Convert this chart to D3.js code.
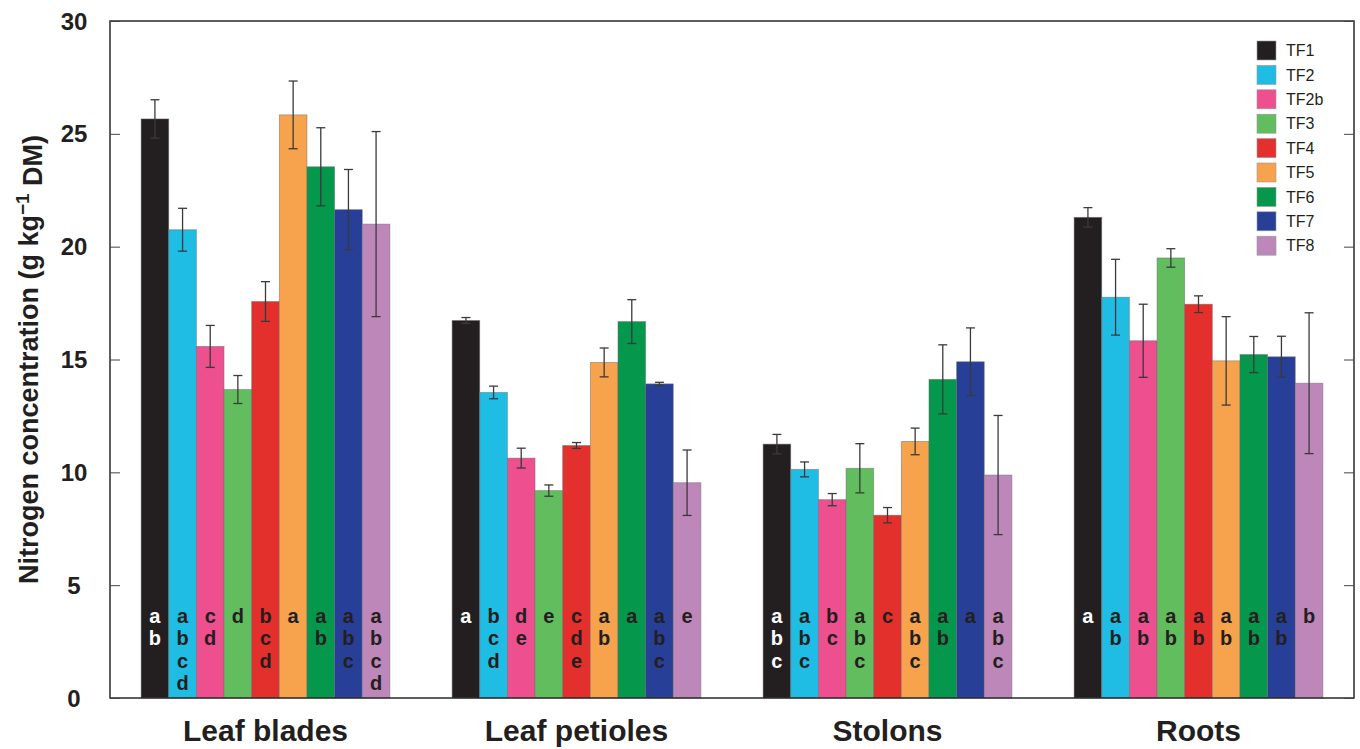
<!DOCTYPE html>
<html>
<head>
<meta charset="utf-8">
<script src="https://cdn.jsdelivr.net/npm/d3@7"></script>
<style>
  html, body { margin: 0; padding: 0; background: #ffffff; }
  svg { display: block; font-family: "Liberation Sans", Arial, Helvetica, sans-serif; }
</style>
</head>
<body>
<svg id="chart" width="1360" height="749"></svg>
<script>
// Plant organs (x groups) and treatments (bars within each group)
const organs = ["Leaf blades", "Leaf petioles", "Stolons", "Roots"];
const treatments = ["TF1", "TF2", "TF2b", "TF3", "TF4", "TF5", "TF6", "TF7", "TF8"];
const colors = ["#231f20", "#1fbce3", "#ee4f8e", "#62bd5e", "#e4302d", "#f7a24c", "#05974b", "#283f98", "#bd87b9"];

// Mean N concentration (g kg-1 DM), one array per organ, ordered as treatments
const leafBlades   = [25.66, 20.75, 15.58, 13.67, 17.57, 25.84, 23.54, 21.64, 21.00];
const leafPetioles = [16.73, 13.54, 10.63,  9.19, 11.19, 14.87, 16.68, 13.92,  9.54];
const stolons      = [11.25, 10.13,  8.79, 10.18,  8.10, 11.37, 14.12, 14.90,  9.88];
const roots        = [21.30, 17.76, 15.83, 19.50, 17.45, 14.94, 15.22, 15.12, 13.95];

// Standard errors, same order
const leafBladesErr   = [0.85, 0.95, 0.93, 0.62, 0.88, 1.50, 1.73, 1.78, 4.10];
const leafPetiolesErr = [0.13, 0.28, 0.44, 0.25, 0.13, 0.64, 0.97, 0.07, 1.45];
const stolonsErr      = [0.43, 0.33, 0.27, 1.09, 0.34, 0.59, 1.53, 1.50, 2.64];
const rootsErr        = [0.43, 1.68, 1.62, 0.41, 0.37, 1.96, 0.80, 0.91, 3.12];

// Significance letters per bar
const leafBladesLetters   = ["ab", "abcd", "cd", "d", "bcd", "a", "ab", "abc", "abcd"];
const leafPetiolesLetters = ["a", "bcd", "de", "e", "cde", "ab", "a", "abc", "e"];
const stolonsLetters      = ["abc", "abc", "bc", "abc", "c", "abc", "ab", "a", "abc"];
const rootsLetters        = ["a", "ab", "ab", "ab", "ab", "ab", "ab", "ab", "b"];

const yTicks = [0, 5, 10, 15, 20, 25, 30];

const means   = [leafBlades, leafPetioles, stolons, roots];
const errs    = [leafBladesErr, leafPetiolesErr, stolonsErr, rootsErr];
const letters = [leafBladesLetters, leafPetiolesLetters, stolonsLetters, rootsLetters];

const rows = [];
organs.forEach((organ, gi) => {
  treatments.forEach((t, ti) => {
    rows.push({ organ, t, ti, value: means[gi][ti], err: errs[gi][ti], sig: letters[gi][ti] });
  });
});

const svg = d3.select("#chart");
const margin = { left: 110, right: 1354, top: 21, bottom: 698 };

const x0 = d3.scaleBand().domain(organs).range([margin.left, margin.right])
  .paddingInner(0.2).paddingOuter(0.1);
const x1 = d3.scaleBand().domain(treatments).range([0, x0.bandwidth()]);
const y = d3.scaleLinear().domain([0, 30]).range([margin.bottom, margin.top]);
const color = d3.scaleOrdinal().domain(treatments).range(colors);

// Bars
const bars = svg.append("g");
bars.selectAll("rect").data(rows).join("rect")
  .attr("x", d => x0(d.organ) + x1(d.t))
  .attr("y", d => y(d.value))
  .attr("width", x1.bandwidth())
  .attr("height", d => y(0) - y(d.value))
  .attr("fill", d => color(d.t))
  .attr("stroke", "#6f6f6f")
  .attr("stroke-opacity", 0.6)
  .attr("stroke-width", 0.8);

// Error bars
const eb = svg.append("g").attr("stroke", "#3a3a3a").attr("stroke-width", 1.3).attr("fill", "none");
const cx = d => x0(d.organ) + x1(d.t) + x1.bandwidth() / 2;
const capW = 4.5;
eb.selectAll("line.v").data(rows).join("line").attr("class", "v")
  .attr("x1", cx).attr("x2", cx)
  .attr("y1", d => y(d.value + d.err)).attr("y2", d => y(d.value - d.err));
eb.selectAll("line.top").data(rows).join("line").attr("class", "top")
  .attr("x1", d => cx(d) - capW).attr("x2", d => cx(d) + capW)
  .attr("y1", d => y(d.value + d.err)).attr("y2", d => y(d.value + d.err));
eb.selectAll("line.bot").data(rows).join("line").attr("class", "bot")
  .attr("x1", d => cx(d) - capW).attr("x2", d => cx(d) + capW)
  .attr("y1", d => y(d.value - d.err)).attr("y2", d => y(d.value - d.err));

// Significance letters stacked vertically inside each bar
const firstBaseline = y(0) - 75;
const lineStep = 22.3;
const letterG = svg.append("g")
  .attr("font-weight", "bold").attr("font-size", 20).attr("text-anchor", "middle");
rows.forEach(d => {
  d.sig.split("").forEach((ch, k) => {
    letterG.append("text")
      .attr("x", cx(d))
      .attr("y", firstBaseline + k * lineStep)
      .attr("fill", d.ti === 0 ? "#ffffff" : "#231f20")
      .text(ch);
  });
});

// Frame
svg.append("rect")
  .attr("x", margin.left).attr("y", margin.top)
  .attr("width", margin.right - margin.left).attr("height", margin.bottom - margin.top)
  .attr("fill", "none").attr("stroke", "#2a2a2a").attr("stroke-width", 1.5);

// Y axis: inward ticks on both sides, labels on the left
const leftAxis = d3.axisLeft(y).tickValues(yTicks).tickSizeInner(-10).tickSizeOuter(0).tickFormat("");
const gl = svg.append("g").attr("transform", `translate(${margin.left},0)`).call(leftAxis);
gl.select(".domain").remove();
gl.selectAll(".tick line").attr("stroke", "#444").attr("stroke-width", 1);
const rightAxis = d3.axisRight(y).tickValues(yTicks).tickSizeInner(-10).tickSizeOuter(0).tickFormat("");
const gr = svg.append("g").attr("transform", `translate(${margin.right},0)`).call(rightAxis);
gr.select(".domain").remove();
gr.selectAll(".tick line").attr("stroke", "#444").attr("stroke-width", 1);

svg.append("g").selectAll("text").data(yTicks).join("text")
  .attr("x", 74).attr("y", d => y(d)).attr("dy", "0.36em")
  .attr("text-anchor", "middle").attr("font-weight", "bold").attr("font-size", 24)
  .attr("fill", "#231f20")
  .text(d => d);

// X category labels
svg.append("g").selectAll("text").data(organs).join("text")
  .attr("x", d => x0(d) + x0.bandwidth() / 2).attr("y", 741)
  .attr("text-anchor", "middle").attr("font-weight", "bold").attr("font-size", 30)
  .attr("fill", "#231f20")
  .text(d => d);

// Y axis title
const yt = svg.append("text")
  .attr("transform", `translate(38,${(margin.top + margin.bottom) / 2}) rotate(-90)`)
  .attr("text-anchor", "middle").attr("font-weight", "bold").attr("font-size", 27)
  .attr("fill", "#231f20");
yt.append("tspan").text("Nitrogen concentration (g kg");
yt.append("tspan").attr("dy", "-0.45em").attr("font-size", 19).text("\u22121");
yt.append("tspan").attr("dy", "0.45em").text(" DM)");

// Legend
const legend = svg.append("g");
const lg = legend.selectAll("g").data(treatments).join("g")
  .attr("transform", (d, i) => `translate(1257,${41 + i * 24.4})`);
lg.append("rect").attr("width", 19).attr("height", 19)
  .attr("fill", d => color(d)).attr("stroke", "#999").attr("stroke-width", 0.6);
lg.append("text").attr("x", 29).attr("y", 9.5).attr("dy", "0.36em")
  .attr("font-size", 16).attr("fill", "#231f20").text(d => d);
</script>
</body>
</html>
